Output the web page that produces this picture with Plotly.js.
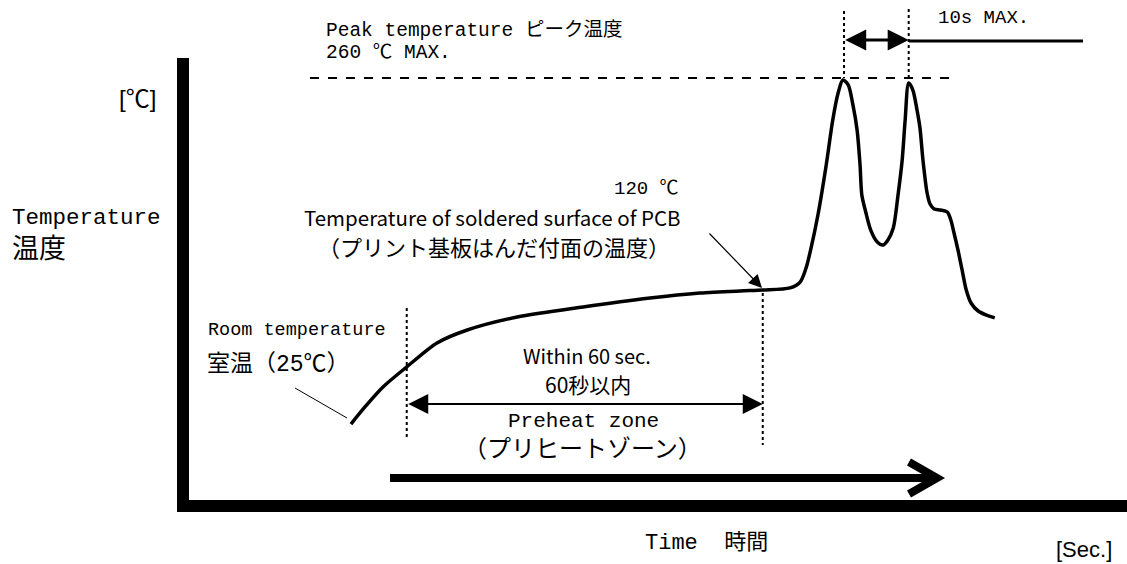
<!DOCTYPE html>
<html>
<head>
<meta charset="utf-8">
<script src="https://cdn.plot.ly/plotly-3.0.1.min.js"></script>
<style>html,body{margin:0;padding:0;background:#fff;}#chart{width:1127px;height:564px;}</style>
</head>
<body>
<div id="chart"></div>
<script>
// ---- Data (time in seconds, temperature in °C; schematic reflow profile) ----
const profileTime = [27.3, 29.8, 32.7, 36.7, 41.8, 46.9, 55.3, 66.4, 77.7, 86.1, 92.9, 96.7,
  101.3, 103.0, 104.0, 104.8, 106.0, 107.4, 108.5, 109.4, 110.2, 111.1, 111.9, 112.6, 113.1,
  113.4, 114.1, 114.9, 116.0, 117.0, 117.8, 118.7, 119.5, 120.2, 120.7, 121.3, 122.0, 122.7,
  123.2, 123.7, 124.4, 124.9, 125.6, 126.6, 127.8, 128.4, 128.9, 129.6, 130.3, 131.0, 131.8,
  133.0, 134.3, 135.8];
const profileTemp = [30.4, 42.4, 55.0, 68.3, 84.2, 92.8, 101.4, 108.1, 114.0, 117.3, 118.7, 119.3,
  120.7, 124.6, 133.9, 146.5, 169.1, 202.3, 232.1, 250.0, 258.7, 255.4, 242.1, 225.5, 202.3,
  182.4, 170.4, 159.1, 151.2, 149.2, 152.5, 160.5, 182.4, 205.6, 232.1, 256.7, 252.0, 238.8,
  226.8, 205.6, 183.7, 176.4, 173.1, 172.4, 171.1, 165.8, 157.8, 145.9, 132.6, 119.3, 110.7,
  105.4, 102.8, 100.8];
const refTemps = [260, 120];          // peak max, PCB surface temp
const preheatTimes = [36.7, 96.7];    // preheat zone (60 s)
const peakTimes = [110.4, 121.3];     // two peaks (10 s max)

const W = 1127, H = 564;
const PX = p => p / W;
const PY = p => 1 - p / H;
const MONO = "'Liberation Mono', 'Noto Sans CJK JP', monospace";
const SANS = "'Noto Sans CJK JP', 'Noto Sans', sans-serif";
const NARROW = "'Liberation Sans Narrow', 'Liberation Sans', 'Noto Sans CJK JP', sans-serif";

const trace = {
  x: profileTime, y: profileTemp, type: 'scatter', mode: 'lines',
  line: {color: '#000', width: 3.5, shape: 'spline', smoothing: 0.8},
  hoverinfo: 'skip'
};

const shapes = [
  // thick axes
  {type: 'rect', xref: 'paper', yref: 'paper', x0: PX(177), x1: PX(189), y0: PY(58), y1: PY(512), fillcolor: '#000', line: {width: 0}},
  {type: 'rect', xref: 'paper', yref: 'paper', x0: PX(177), x1: PX(1127), y0: PY(500), y1: PY(512), fillcolor: '#000', line: {width: 0}},
  // 260 °C dashed line
  {type: 'line', xref: 'paper', yref: 'y', x0: PX(310), x1: PX(953), y0: refTemps[0], y1: refTemps[0], line: {color: '#000', width: 2, dash: 'dash'}},
  // peak dotted verticals
  {type: 'line', xref: 'x', yref: 'paper', x0: peakTimes[0], x1: peakTimes[0], y0: PY(11), y1: PY(78), line: {color: '#000', width: 2, dash: 'dot'}},
  {type: 'line', xref: 'x', yref: 'paper', x0: peakTimes[1], x1: peakTimes[1], y0: PY(9), y1: PY(80), line: {color: '#000', width: 2, dash: 'dot'}},
  // line to "10s MAX."
  {type: 'line', xref: 'paper', yref: 'paper', x0: PX(909), x1: PX(1083), y0: PY(41), y1: PY(41), line: {color: '#000', width: 3}},
  // preheat dotted verticals
  {type: 'line', xref: 'x', yref: 'paper', x0: preheatTimes[0], x1: preheatTimes[0], y0: PY(308), y1: PY(440), line: {color: '#000', width: 2, dash: 'dot'}},
  {type: 'line', xref: 'x', yref: 'paper', x0: preheatTimes[1], x1: preheatTimes[1], y0: PY(293), y1: PY(445), line: {color: '#000', width: 2, dash: 'dot'}},
  // room temperature leader line
  {type: 'line', xref: 'paper', yref: 'paper', x0: PX(295), x1: PX(347), y0: PY(388), y1: PY(418), line: {color: '#000', width: 1}},
  // big time arrow
  {type: 'line', xref: 'paper', yref: 'paper', x0: PX(390), x1: PX(934), y0: PY(478), y1: PY(478), line: {color: '#000', width: 8}},
  {type: 'path', xref: 'paper', yref: 'paper',
   path: 'M ' + PX(909) + ',' + PY(462) + ' L ' + PX(937) + ',' + PY(478) + ' L ' + PX(909) + ',' + PY(494),
   line: {color: '#000', width: 8}}
];

function txt(text, x, y, size, family, anchor) {
  return {text: text, xref: 'paper', yref: 'paper', x: PX(x), y: PY(y), xanchor: anchor || 'left', yanchor: 'middle',
    showarrow: false, font: {size: size, family: family, color: '#000'}};
}

const annotations = [
  txt('Peak temperature ピーク温度', 324, 31, 19.5, MONO),
  txt('260 ℃ MAX.', 324, 53, 19.5, MONO),
  txt('10s MAX.', 936, 18, 19, MONO),
  txt('[℃]', 117, 99, 24, NARROW),
  txt('Temperature', 10, 218, 22.5, MONO),
  txt('温度', 10, 250, 27, MONO),
  txt('120 ℃', 646, 189, 19, MONO, 'center'),
  txt('Temperature of soldered surface of PCB', 492, 217, 20.5, SANS, 'center'),
  txt('（プリント基板はんだ付面の温度）', 494, 246, 22, SANS, 'center'),
  txt('Room temperature', 206, 330, 18.5, MONO),
  txt('室温（25℃）', 205, 364, 23, MONO),
  txt('Within 60 sec.', 587, 355, 20, SANS, 'center'),
  txt('60秒以内', 588, 384, 21, SANS, 'center'),
  txt('Preheat zone', 583, 421, 21, MONO, 'center'),
  txt('（プリヒートゾーン）', 582, 450, 24, MONO, 'center'),
  txt('Time  時間', 706, 543, 22, MONO, 'center'),
  txt('[Sec.]', 1084, 549, 22, NARROW, 'center'),
  // double arrow between peaks
  {text: '', xref: 'x', yref: 'paper', x: peakTimes[1], y: PY(40), ax: -(909 - 844), ay: 0, axref: 'pixel', ayref: 'pixel',
   showarrow: true, arrowhead: 2, startarrowhead: 2, arrowside: 'end+start', arrowsize: 1.4, startarrowsize: 1.4, arrowwidth: 3, arrowcolor: '#000', standoff: 0, startstandoff: 0},
  // preheat double arrow
  {text: '', xref: 'x', yref: 'paper', x: preheatTimes[1], y: PY(404), ax: -(763 - 407), ay: 0, axref: 'pixel', ayref: 'pixel',
   showarrow: true, arrowhead: 2, startarrowhead: 2, arrowside: 'end+start', arrowsize: 2, startarrowsize: 2, arrowwidth: 2, arrowcolor: '#000', standoff: 0, startstandoff: 0},
  // PCB surface temperature pointer
  {text: '', xref: 'paper', yref: 'paper', x: PX(762), y: PY(288), ax: 708 - 762, ay: 232 - 288, axref: 'pixel', ayref: 'pixel',
   showarrow: true, arrowhead: 2, arrowsize: 2.2, arrowwidth: 1.2, arrowcolor: '#000', standoff: 0}
];

const layout = {
  width: W, height: H,
  margin: {l: 0, r: 0, t: 0, b: 0, pad: 0},
  paper_bgcolor: '#fff', plot_bgcolor: '#fff',
  showlegend: false,
  xaxis: {range: [-31.85, 158.09], visible: false, fixedrange: true},
  yaxis: {range: [-62.47, 311.75], visible: false, fixedrange: true},
  shapes: shapes,
  annotations: annotations
};

Plotly.newPlot('chart', [trace], layout, {staticPlot: true, displayModeBar: false});
</script>
</body>
</html>
